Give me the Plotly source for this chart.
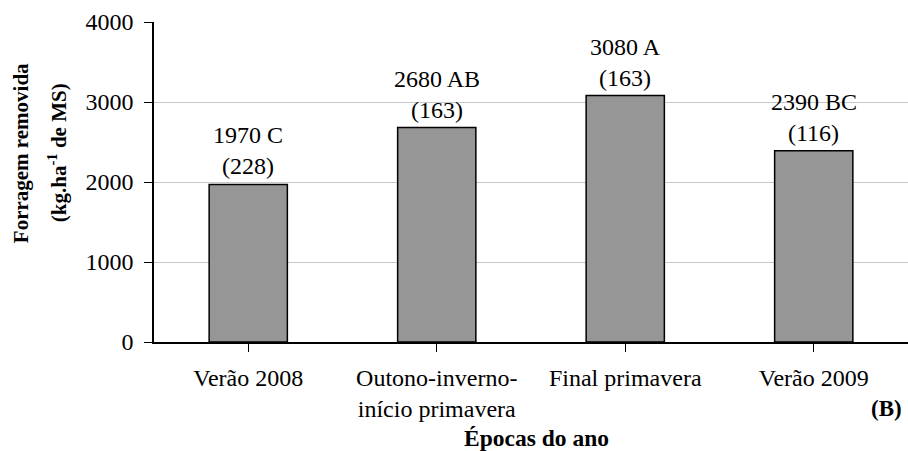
import plotly.graph_objects as go

categories = ["Verão 2008", "Outono-inverno-<br>início primavera", "Final primavera", "Verão 2009"]
values = [1970, 2680, 3080, 2390]
letters = ["C", "AB", "A", "BC"]
errors = [228, 163, 163, 116]
y_ticks = [0, 1000, 2000, 3000, 4000]

FONT = "Liberation Serif"
fig = go.Figure()
fig.add_trace(go.Bar(
    x=list(range(len(categories))), y=values, width=0.415,
    marker=dict(color="#969696", line=dict(color="#000000", width=1.5)),
    hoverinfo="skip",
))

ann = []
for i, (v, l, e) in enumerate(zip(values, letters, errors)):
    ann.append(dict(x=i, y=v, xref="x", yref="y", text=f"{v} {l}", showarrow=False,
                    yanchor="middle", yshift=49, font=dict(family=FONT, size=24, color="black")))
    ann.append(dict(x=i, y=v, xref="x", yref="y", text=f"({e})", showarrow=False,
                    yanchor="middle", yshift=18, font=dict(family=FONT, size=24, color="black")))

ann.append(dict(x=0, y=0.59, xref="paper", yref="paper", xshift=-133, text="<b>Forragem removida</b>",
                textangle=-90, showarrow=False, xanchor="center", yanchor="middle",
                font=dict(family=FONT, size=21, color="black")))
ann.append(dict(x=0, y=0.59, xref="paper", yref="paper", xshift=-97,
                text="<b>(kg.ha<sup>-1</sup> de MS)</b>",
                textangle=-90, showarrow=False, xanchor="center", yanchor="middle",
                font=dict(family=FONT, size=21, color="black")))
ann.append(dict(x=0.507, y=0, xref="paper", yref="paper", yshift=-96, text="<b>Épocas do ano</b>",
                showarrow=False, xanchor="center", yanchor="middle",
                font=dict(family=FONT, size=23.5, color="black")))
ann.append(dict(x=1, y=0, xref="paper", yref="paper", xshift=-4, yshift=-66, text="<b>(B)</b>",
                showarrow=False, xanchor="right", yanchor="middle",
                font=dict(family=FONT, size=23, color="black")))

fig.update_layout(
    width=908, height=451,
    margin=dict(l=154, r=0, t=22, b=109),
    plot_bgcolor="white", paper_bgcolor="white",
    showlegend=False,
    font=dict(family=FONT, color="black"),
    annotations=ann,
    xaxis=dict(
        range=[-0.5, 3.5], tickmode="array", tickvals=list(range(len(categories))),
        ticktext=categories, tickson="boundaries", ticks="outside", ticklen=8,
        tickcolor="black", showline=True, linecolor="black", linewidth=1.5,
        showgrid=False, ticklabelstandoff=5,
        tickfont=dict(family=FONT, size=24, color="black"),
    ),
    yaxis=dict(
        range=[0, 4000], tickvals=y_ticks, ticks="outside", ticklen=8,
        tickcolor="black", showline=True, linecolor="black", linewidth=1.5,
        showgrid=True, gridcolor="#c8c8c8", gridwidth=1, zeroline=False,
        ticklabelstandoff=6,
        tickfont=dict(family=FONT, size=24, color="black"),
    ),
)
fig.write_html("out.html", post_script="document.body.style.margin='0';",
               config={"displayModeBar": False})
